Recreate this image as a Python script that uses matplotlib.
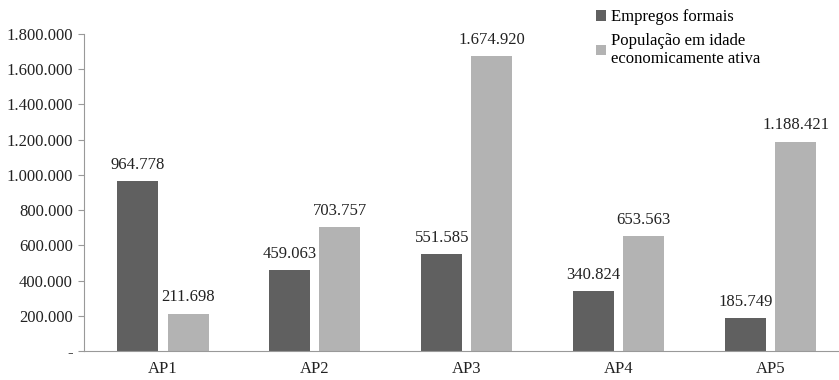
import numpy as np
import matplotlib.pyplot as plt
from matplotlib.ticker import FuncFormatter

areas = ['AP1', 'AP2', 'AP3', 'AP4', 'AP5']
empregos = [964778, 459063, 551585, 340824, 185749]
populacao = [211698, 703757, 1674920, 653563, 1188421]
series_names = ['Empregos formais', 'População em idade\neconomicamente ativa']

plt.rcParams['font.family'] = ['Liberation Serif', 'DejaVu Serif']
plt.rcParams['font.size'] = 12

def fmt_br(v, pos=None):
    if v == 0:
        return '-'
    return f'{int(round(v)):,}'.replace(',', '.')

fig = plt.figure(figsize=(8.39, 3.80), dpi=100)
ax = fig.add_axes([84 / 839, 29 / 380, 755 / 839, 317 / 380])

x = np.arange(len(areas))
w = 0.27
off = 0.165
b1 = ax.bar(x - off, empregos, w, color='#606060', label=series_names[0])
b2 = ax.bar(x + off, populacao, w, color='#b3b3b3', label=series_names[1])

for bars in (b1, b2):
    for r in bars:
        ax.annotate(fmt_br(r.get_height()), (r.get_x() + r.get_width() / 2, r.get_height()),
                    xytext=(0, 6), textcoords='offset points', ha='center', va='bottom',
                    color='#222222')

ax.set_xlim(-0.52, 4.45)
ax.set_ylim(0, 1800000)
ax.set_yticks(np.arange(0, 1800001, 200000))
ax.yaxis.set_major_formatter(FuncFormatter(fmt_br))
ax.set_xticks(x)
ax.set_xticklabels(areas)
ax.tick_params(axis='x', length=0, pad=7, colors='#222222')
ax.tick_params(axis='y', length=4, color='#999999', colors='#222222', pad=4)
for s in ['top', 'right']:
    ax.spines[s].set_visible(False)
for s in ['left', 'bottom']:
    ax.spines[s].set_color('#999999')

fig.legend(loc='upper left', bbox_to_anchor=(0.692, 1.015), frameon=False,
           handlelength=0.6, handleheight=0.6, handletextpad=0.3, labelspacing=0.45)

fig.savefig('out.png', dpi=100)
